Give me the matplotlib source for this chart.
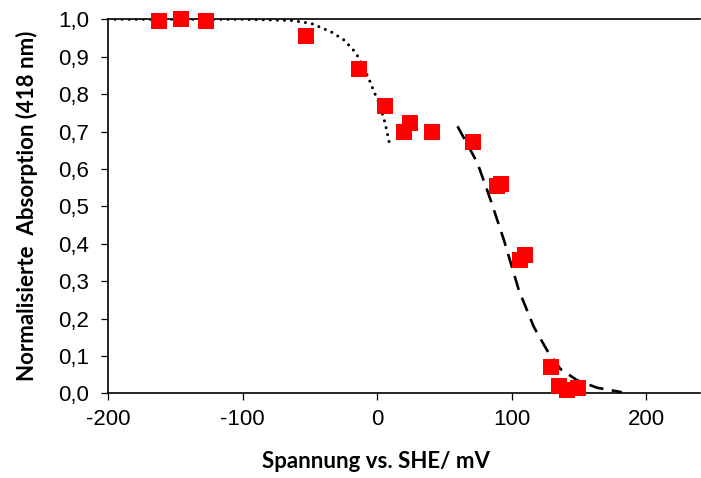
import matplotlib.pyplot as plt
from matplotlib.ticker import FuncFormatter

# measured points (potential in mV vs. SHE, normalised absorption at 418 nm)
spannung = [-162, -146, -127, -53, -13.5, 6, 24.5, 20, 40.5, 71, 89, 92.5, 106, 110, 129, 135, 141, 149.5]
absorption = [0.995, 1.0, 0.995, 0.955, 0.866, 0.767, 0.724, 0.70, 0.70, 0.673, 0.555, 0.56, 0.357, 0.37, 0.07, 0.02, 0.01, 0.013]

# dotted fit curve
fit1_x = [-195, -100, -64, -49, -34, -24.4, -17, -13.3, -6, -2.2, 0.7, 5.2, 6.7, 8.9]
fit1_y = [1.0, 1.0, 0.997, 0.989, 0.966, 0.944, 0.915, 0.895, 0.84, 0.805, 0.783, 0.732, 0.71, 0.673]

# dashed fit curve
fit2_x = [59.8, 74.6, 84.4, 94.3, 105.4, 116.5, 126.4, 136.3, 148.7, 163.5, 182]
fit2_y = [0.714, 0.616, 0.517, 0.41, 0.276, 0.178, 0.115, 0.065, 0.035, 0.015, 0.003]

xticks = [-200, -100, 0, 100, 200]
yticks = [0.0, 0.1, 0.2, 0.3, 0.4, 0.5, 0.6, 0.7, 0.8, 0.9, 1.0]

plt.rcParams['font.family'] = ['Liberation Sans', 'DejaVu Sans']
plt.rcParams['axes.unicode_minus'] = False

fig = plt.figure(figsize=(7.01, 4.78), dpi=100)
ax = fig.add_axes([0.1545, 0.1772, 0.8437, 0.7824])

ax.plot(fit1_x, fit1_y, color='black', lw=2.2, linestyle=(0, (0.01, 2.3)),
        dash_capstyle='round', zorder=2)
ax.plot(fit2_x, fit2_y, color='black', lw=1.9, dashes=(5.5, 3.2), zorder=2)
ax.plot(spannung, absorption, 's', color='#ff0000', markersize=12,
        markeredgewidth=0, clip_on=False, zorder=3)

ax.set_xlim(-200, 240)
ax.set_ylim(0, 1.0)
ax.set_xticks(xticks)
ax.set_yticks(yticks)
ax.yaxis.set_major_formatter(FuncFormatter(lambda v, p: f"{v:.1f}".replace('.', ',')))

ax.spines['right'].set_visible(False)
for s in ['left', 'bottom', 'top']:
    ax.spines[s].set_linewidth(1.2)
ax.tick_params(direction='out', length=5, width=0.9, labelsize=16)
ax.tick_params(axis='y', pad=9)
ax.tick_params(axis='x', pad=6)

lab = dict(family=['Lato', 'DejaVu Sans'], fontweight='bold', fontsize=16)
ax.set_xlabel("Spannung vs. SHE/ mV", labelpad=16, **lab)
ax.xaxis.set_label_coords(0.453, -0.155)
ax.set_ylabel("Normalisierte  Absorption (418 nm)", labelpad=14, **lab)

fig.savefig("out.png", dpi=100)
